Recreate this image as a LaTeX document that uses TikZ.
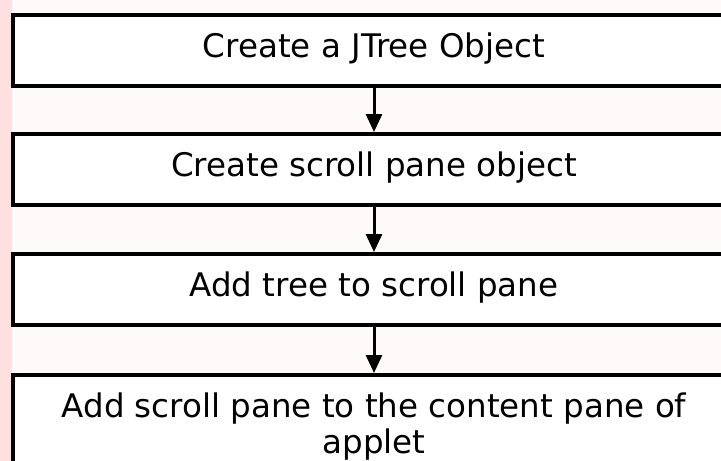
\documentclass[tikz,border=0pt]{standalone}
\usepackage{fontspec}
\setmainfont{DejaVu Sans}
\usetikzlibrary{arrows.meta}
\begin{document}
\begin{tikzpicture}[x=1pt,y=-1pt,
  stepbox/.style={draw=black, line width=3.5pt, fill=white, inner sep=0pt,
    minimum width=722pt, text height=43pt, text depth=28pt, align=center,
    font=\fontsize{32.5}{36}\selectfont},
  flow/.style={line width=3pt, -{Triangle[length=18pt,width=16pt]}}]
\clip (0,0) rectangle (721,461);
\fill[red!2] (0,0) rectangle (721,461);
\fill[red!12] (0,0) rectangle (12,461);
\node[stepbox, anchor=north] (b1) at (374,13) {Create a JTree Object};
\node[stepbox, anchor=north] (b2) at (374,132) {Create scroll pane object};
\node[stepbox, anchor=north] (b3) at (374,252) {Add tree to scroll pane};
\node[stepbox, anchor=north, text height=79pt] (b4) at (374,373) {Add scroll pane to the content pane of\\applet};
\draw[flow] (b1.south) -- (b2.north);
\draw[flow] (b2.south) -- (b3.north);
\draw[flow] (b3.south) -- (b4.north);
\end{tikzpicture}
\end{document}
